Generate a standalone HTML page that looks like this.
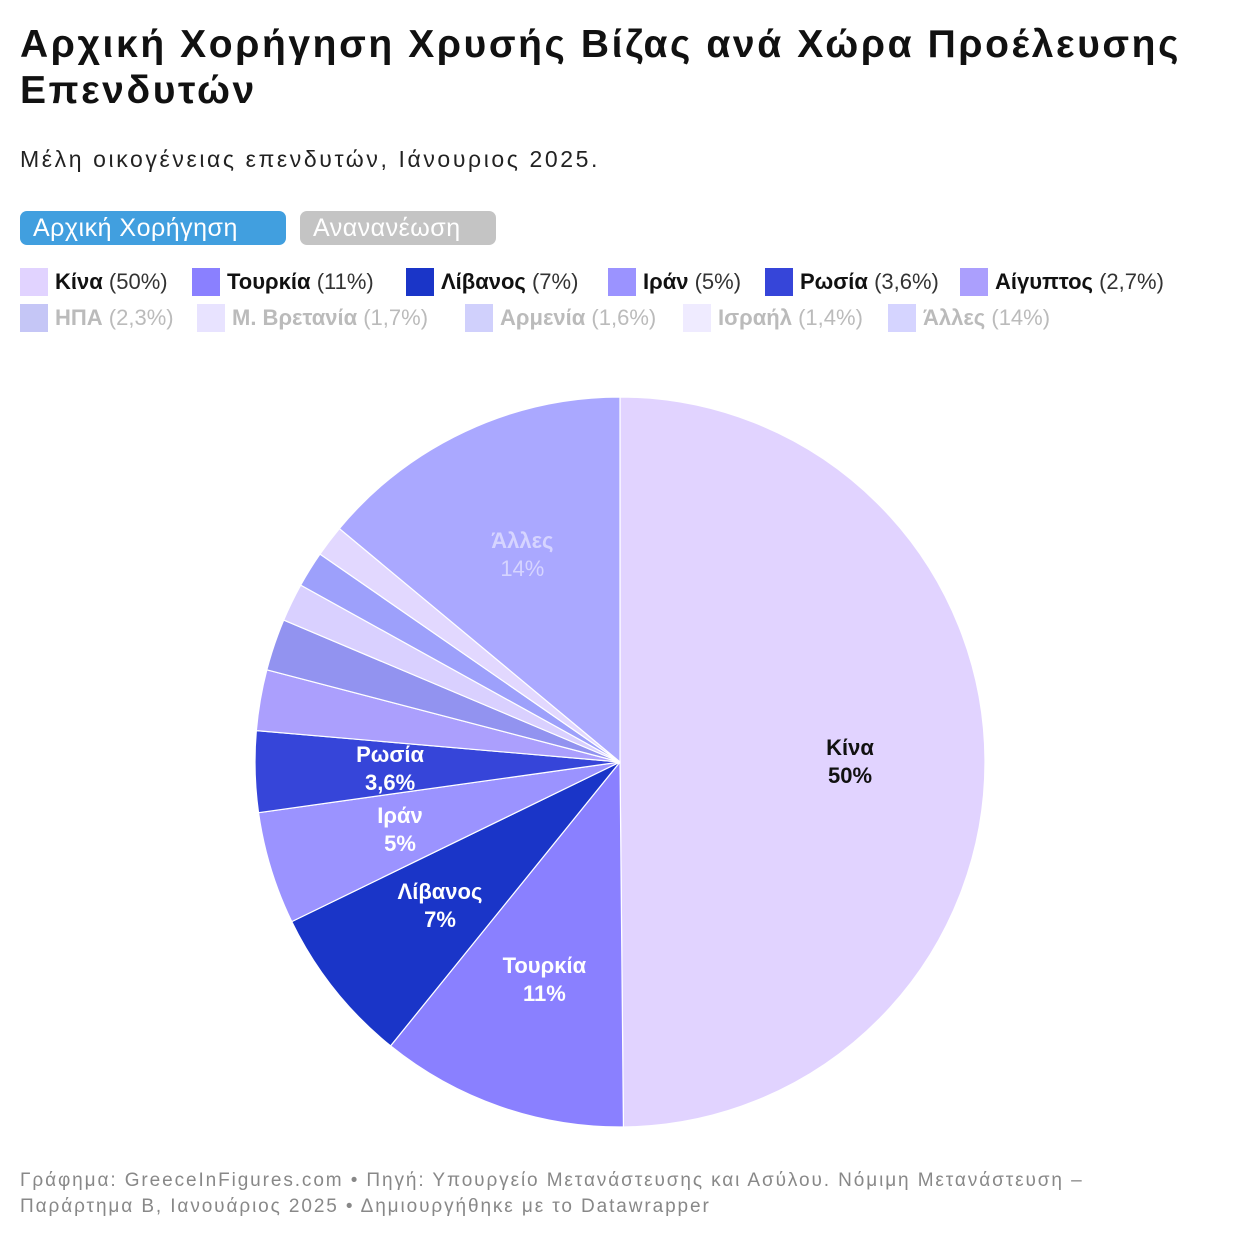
<!DOCTYPE html>
<html><head><meta charset="utf-8"><style>
body{margin:0;width:1240px;height:1240px;background:#fff;font-family:"Liberation Sans","DejaVu Sans",sans-serif;position:relative;overflow:hidden}
.abs{position:absolute}
h1{position:absolute;left:20px;top:22px;margin:0;font-size:39px;line-height:46px;font-weight:bold;color:#111;width:1220px;letter-spacing:2.6px;white-space:nowrap}
.sub{left:20px;top:146px;font-size:23px;color:#222;letter-spacing:2.6px;white-space:nowrap}
.btn{top:211px;height:34px;border-radius:7px;color:#fff;font-size:25px;line-height:34px;padding:0 13px;box-sizing:border-box;white-space:nowrap;letter-spacing:0.5px}
.li{font-size:22px;line-height:28px;white-space:nowrap}
.li i{display:inline-block;width:28px;height:28px;vertical-align:top;margin-right:7px}
.li b{font-weight:bold}
.foot{left:20px;top:1168px;font-size:19px;line-height:26px;color:#888;width:1200px;letter-spacing:1.9px;white-space:nowrap}
</style></head><body>
<h1>Αρχική Χορήγηση Χρυσής Βίζας ανά Χώρα Προέλευσης<br>Επενδυτών</h1>
<div class="abs sub">Μέλη οικογένειας επενδυτών, Ιάνουριος 2025.</div>
<div class="abs btn" style="left:20px;width:266px;background:#419fdf">Αρχική Χορήγηση</div>
<div class="abs btn" style="left:300px;width:196px;background:#c4c4c4">Ανανανέωση</div>
<div id="legend"></div>
<svg class="abs" style="left:0;top:0" width="1240" height="1240" id="pie"></svg>
<div class="abs foot">Γράφημα: GreeceInFigures.com • Πηγή: Υπουργείο Μετανάστευσης και Ασύλου. Νόμιμη Μετανάστευση –<br>Παράρτημα Β, Ιανουάριος 2025 • Δημιουργήθηκε με το Datawrapper</div>
<script>
const categories=["Κίνα","Τουρκία","Λίβανος","Ιράν","Ρωσία","Αίγυπτος","ΗΠΑ","Μ. Βρετανία","Αρμενία","Ισραήλ","Άλλες"];
const values=[50,11,7,5,3.6,2.7,2.3,1.7,1.6,1.4,14];
const labels=["50%","11%","7%","5%","3,6%","2,7%","2,3%","1,7%","1,6%","1,4%","14%"];
const colors=["#e1d3ff","#8a80ff","#1a35c8","#9b93ff","#3645d9","#ab9ffd","#9293f0","#d9d0ff","#9da0fb","#e2d8ff","#aaa8ff"];
const legendColors=["#e1d3ff","#8a80ff","#1a35c8","#9b93ff","#3645d9","#ab9ffd","#c5c6f6","#e8e3ff","#d0d0fc","#efebff","#d5d4ff"];
const showLabel=[1,1,1,1,1,0,0,0,0,0,1];
const labelColor=["#111","#fff","#fff","#fff","#fff","#fff","#fff","#fff","#fff","#fff","#d6d4ff"];
const legPos=[[20,268],[192,268],[406,268],[608,268],[765,268],[960,268],[20,304],[197,304],[465,304],[683,304],[888,304]];
const NS="http://www.w3.org/2000/svg";
const svg=document.getElementById('pie');
const cx=620,cy=762,R=365;
const total=values.reduce((a,b)=>a+b,0);
function pt(a,r){return [cx+r*Math.sin(a),cy-r*Math.cos(a)];}
let acc=0;
values.forEach((v,i)=>{
 const a0=acc/total*2*Math.PI,a1=(acc+v)/total*2*Math.PI;acc+=v;
 const p0=pt(a0,R),p1=pt(a1,R);
 const p=document.createElementNS(NS,'path');
 p.setAttribute('d',`M${cx},${cy}L${p0[0]},${p0[1]}A${R},${R} 0 ${a1-a0>Math.PI?1:0} 1 ${p1[0]},${p1[1]}Z`);
 p.setAttribute('fill',colors[i]);p.setAttribute('stroke','#fff');p.setAttribute('stroke-width','1.2');
 
 
 svg.appendChild(p);
 if(showLabel[i]){
  const m=(a0+a1)/2,c=pt(m,230);
  [categories[i],labels[i]].forEach((t,k)=>{
   const tx=document.createElementNS(NS,'text');
   tx.setAttribute('x',c[0]);tx.setAttribute('y',c[1]-6+k*28);
   tx.setAttribute('text-anchor','middle');tx.setAttribute('font-size','22');
   tx.setAttribute('font-weight',i==10&&k==1?'normal':'bold');
   tx.setAttribute('fill',labelColor[i]);
   
   
   tx.textContent=t;svg.appendChild(tx);
  });
 }
});
const leg=document.getElementById('legend');
categories.forEach((c,i)=>{
 const d=document.createElement('div');
 d.className='abs li';d.style.left=legPos[i][0]+'px';d.style.top=legPos[i][1]+'px';
 d.style.color=i<6?'#111':'#bbb';
 
 
 d.innerHTML=`<i style="background:${legendColors[i]}"></i><b>${c}</b> <span style="color:${i<6?'#333':'#bbb'}">(${labels[i]})</span>`;
 leg.appendChild(d);
});
</script>
</body></html>
